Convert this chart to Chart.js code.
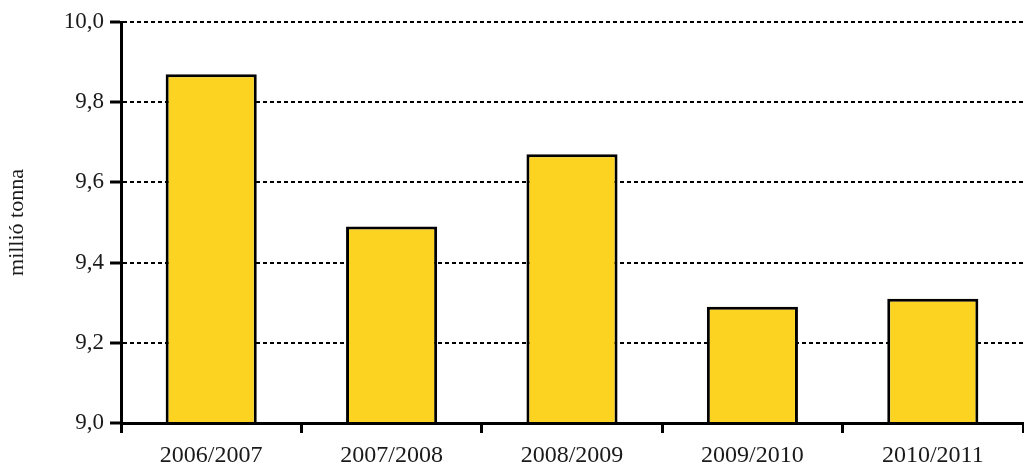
<!DOCTYPE html>
<html>
<head>
<meta charset="utf-8">
<script src="https://cdn.jsdelivr.net/npm/chart.js@4/dist/chart.umd.min.js"></script>
<style>
  html, body { margin: 0; padding: 0; background: #fff; }
  #wrap { width: 1024px; height: 469px; position: relative; }
</style>
</head>
<body>
<div id="wrap"><canvas id="c" width="1024" height="469"></canvas></div>
<script>
const categories = ['2006/2007', '2007/2008', '2008/2009', '2009/2010', '2010/2011'];
const values = [9.87, 9.49, 9.67, 9.29, 9.31];
const yTickLabels = ['9,0', '9,2', '9,4', '9,6', '9,8', '10,0'];
const yTitle = 'millió tonna';

const FONT = "'Liberation Serif', 'DejaVu Serif', serif";

new Chart(document.getElementById('c'), {
  type: 'bar',
  data: {
    labels: categories,
    datasets: [{
      data: values,
      backgroundColor: '#FDD321',
      borderColor: '#000000',
      borderWidth: 3,
      borderSkipped: 'start',
      barPercentage: 0.505,
      categoryPercentage: 1.0
    }]
  },
  options: {
    responsive: false,
    animation: false,
    devicePixelRatio: 1,
    layout: { padding: { top: 22, right: 1, left: 0, bottom: 0 } },
    plugins: { legend: { display: false }, tooltip: { enabled: false } },
    scales: {
      x: {
        grid: {
          display: true, drawOnChartArea: false, drawTicks: true,
          offset: true, tickLength: 10, tickWidth: 3, tickColor: '#000'
        },
        border: { display: true, color: '#000', width: 3, z: 1 },
        ticks: { color: '#1a1a1a', font: { family: FONT, size: 24 }, padding: 8, maxRotation: 0 },
        afterFit: (s) => { s.height = 46; }
      },
      y: {
        min: 9, max: 10,
        grid: {
          color: '#000', lineWidth: 2, drawTicks: true,
          tickLength: 11, tickWidth: 3, tickColor: '#000', tickBorderDash: []
        },
        border: { display: true, color: '#000', width: 3, dash: [4, 3], z: 1 },
        ticks: {
          stepSize: 0.2, color: '#1a1a1a', padding: 6,
          font: { family: FONT, size: 23 },
          callback: (v, i) => yTickLabels[i]
        },
        title: { display: true, text: yTitle, color: '#1a1a1a', font: { family: FONT, size: 22 }, padding: { top: 4, bottom: 0 } },
        afterFit: (s) => { s.width = 121; }
      }
    }
  }
});
</script>
</body>
</html>
